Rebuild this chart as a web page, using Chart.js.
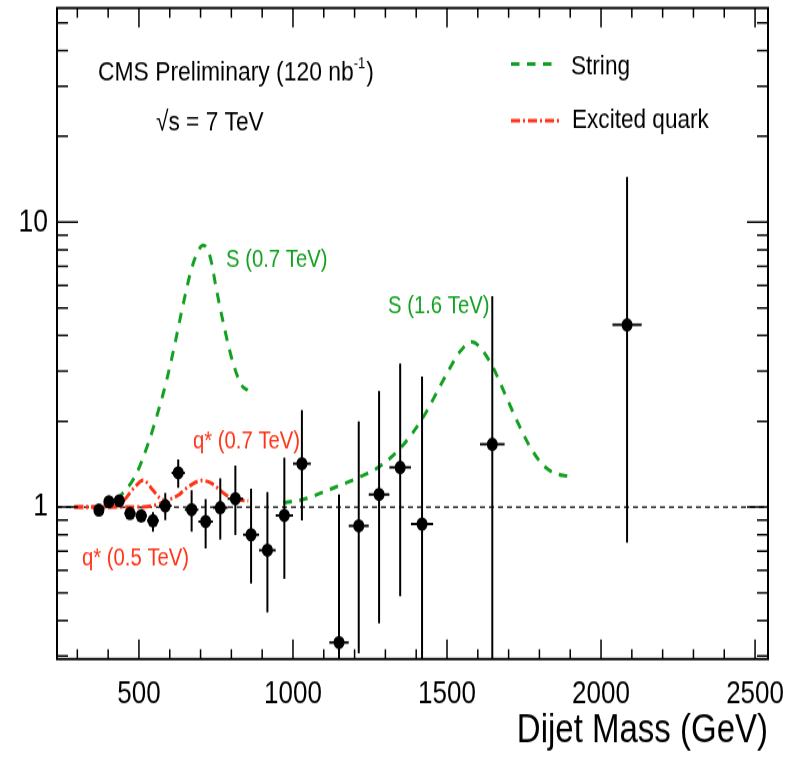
<!DOCTYPE html>
<html><head><meta charset="utf-8">
<script src="https://cdn.jsdelivr.net/npm/chart.js@4.4.1/dist/chart.umd.min.js"></script>
<style>html,body{margin:0;padding:0;background:#fff;overflow:hidden}</style>
</head><body>
<canvas id="c" width="796" height="622" style="display:block;width:796px;height:758px"></canvas>
<script>
// ---------------- data ----------------
const massCenters = [370, 402.5, 436, 471, 507.5, 545.5, 585.5, 627.5, 671, 716.5, 764, 813, 864, 917, 972, 1029, 1149.5, 1213.5, 1279.5, 1348, 1419, 1647, 2084.5];
const binLow  = [354, 386, 419, 453, 489, 526, 565, 606, 649, 693, 740, 788, 838, 890, 944, 1000, 1118, 1181, 1246, 1313, 1383, 1607, 2037];
const binHigh = [386, 419, 453, 489, 526, 565, 606, 649, 693, 740, 788, 838, 890, 944, 1000, 1058, 1181, 1246, 1313, 1383, 1455, 1687, 2132];
const ratio   = [0.976, 1.044, 1.052, 0.95, 0.932, 0.895, 1.01, 1.32, 0.98, 0.89, 0.995, 1.07, 0.80, 0.706, 0.935, 1.42, 0.335, 0.86, 1.108, 1.378, 0.872, 1.66, 4.36];
const errHigh = [1.01, 1.075, 1.085, 0.99, 0.985, 0.96, 1.12, 1.47, 1.147, 1.067, 1.26, 1.40, 1.16, 1.13, 1.49, 2.19, 1.108, 2.0, 2.56, 3.19, 2.87, 5.5, 14.4];
const errLow  = [0.945, 1.015, 1.02, 0.91, 0.885, 0.82, 0.90, 1.17, 0.82, 0.716, 0.77, 0.798, 0.54, 0.427, 0.56, 0.898, 0.1, 0.307, 0.391, 0.487, 0.1, 0.1, 0.75];

const stringMass07  = [430, 438, 487, 530, 557, 590, 617, 644, 676, 709, 731, 752, 779, 806, 833, 853];
const stringRatio07 = [1.06, 1.087, 1.28, 1.67, 2.07, 2.79, 3.75, 5.18, 7.16, 8.3, 7.55, 5.77, 4.18, 3.19, 2.68, 2.57];
const stringMass16  = [969, 1033, 1120, 1218, 1282, 1353, 1423, 1488, 1542, 1580, 1640, 1683, 1726, 1769, 1813, 1856, 1894];
const stringRatio16 = [1.035, 1.064, 1.154, 1.277, 1.39, 1.63, 2.07, 2.79, 3.51, 3.8, 3.23, 2.57, 2.02, 1.63, 1.40, 1.306, 1.285];
const qstarMass05  = [290, 400, 438, 487, 514, 541, 568, 580];
const qstarRatio05 = [1.0, 1.0, 1.022, 1.178, 1.243, 1.163, 1.075, 1.06];
const qstarMass07  = [290, 449, 503, 552, 595, 628, 660, 704, 736, 769, 801, 855];
const qstarRatio07 = [1.0, 1.0, 1.0, 1.016, 1.058, 1.102, 1.178, 1.24, 1.211, 1.132, 1.073, 1.052];

const referenceRatio = [1, 1];
const referenceMass = [234, 2542];

const xMajorTicks = [500, 1000, 1500, 2000, 2500];
const xMinorTicks = [300, 400, 600, 700, 800, 900, 1100, 1200, 1300, 1400, 1600, 1700, 1800, 1900, 2100, 2200, 2300, 2400];
const yMajorTicks = [1, 10];
const yMinorTicks = [0.3, 0.4, 0.5, 0.6, 0.7, 0.8, 0.9, 2, 3, 4, 5, 6, 7, 8, 9, 20, 30, 40, 50];

// ---------------- styling ----------------
const S = 758 / 622;           // vertical stretch of the original picture
const GREEN = '#12a020';
const RED = '#ff3317';
const FONT = '"Liberation Sans", Arial, Helvetica, sans-serif';

const pts = (xs, ys) => xs.map((x, i) => ({x, y: ys[i]}));
const vErr = [];
massCenters.forEach((m, i) => { vErr.push({x: m, y: errLow[i]}, {x: m, y: errHigh[i]}, {x: m, y: null}); });
const hErr = [];
massCenters.forEach((m, i) => { hErr.push({x: binLow[i], y: ratio[i]}, {x: binHigh[i], y: ratio[i]}, {x: binHigh[i], y: null}); });

const axisDecor = {
  id: 'axisDecor',
  afterDraw(chart) {
    const {ctx, chartArea: a, scales: {x, y}} = chart;
    ctx.save();
    ctx.strokeStyle = '#000';
    ctx.setLineDash([]);
    ctx.lineWidth = 1.5;
    ctx.beginPath();
    const xt = (list, len) => list.forEach(v => {
      const px = x.getPixelForValue(v);
      ctx.moveTo(px, a.bottom); ctx.lineTo(px, a.bottom - len);
      ctx.moveTo(px, a.top); ctx.lineTo(px, a.top + len);
    });
    const yt = (list, len) => list.forEach(v => {
      const py = y.getPixelForValue(v);
      ctx.moveTo(a.left, py); ctx.lineTo(a.left + len, py);
      ctx.moveTo(a.right, py); ctx.lineTo(a.right - len, py);
    });
    xt(xMajorTicks, 16); xt(xMinorTicks, 8);
    yt(yMajorTicks, 21); yt(yMinorTicks, 11);
    ctx.stroke();
    ctx.lineWidth = 2;
    ctx.strokeRect(a.left, a.top, a.right - a.left, a.bottom - a.top);
    ctx.restore();
  }
};

function txt(ctx, s, x, y, size, color) {
  ctx.font = size + 'px ' + FONT;
  ctx.fillStyle = color;
  ctx.textAlign = 'left';
  ctx.textBaseline = 'alphabetic';
  ctx.fillText(s, x, y);
  return ctx.measureText(s).width;
}

const annotations = {
  id: 'annotations',
  afterDraw(chart) {
    const ctx = chart.ctx;
    ctx.save();
    // header
    let w = txt(ctx, 'CMS Preliminary (120 nb', 98, 80 / S, 22.9, '#000');
    let w2 = txt(ctx, '-1', 98 + w, 68 / S, 13, '#000');
    txt(ctx, ')', 98 + w + w2 + 1, 80 / S, 22.9, '#000');
    txt(ctx, '\u221As = 7 TeV', 156, 130 / S, 22.7, '#000');
    // legend
    ctx.lineWidth = 3;
    ctx.strokeStyle = GREEN;
    ctx.setLineDash([8.5, 7.5]);
    ctx.beginPath(); ctx.moveTo(511, 64 / S); ctx.lineTo(559, 64 / S); ctx.stroke();
    ctx.strokeStyle = RED;
    ctx.setLineDash([9, 3, 2, 3]);
    ctx.beginPath(); ctx.moveTo(511, 120.7 / S); ctx.lineTo(559, 120.7 / S); ctx.stroke();
    ctx.setLineDash([]);
    txt(ctx, 'String', 571, 74 / S, 22.6, '#000');
    txt(ctx, 'Excited quark', 572, 128 / S, 22.6, '#000');
    // curve labels
    txt(ctx, 'S (0.7 TeV)', 226, 267 / S, 20.3, GREEN);
    txt(ctx, 'S (1.6 TeV)', 388, 313 / S, 20.3, GREEN);
    txt(ctx, 'q* (0.7 TeV)', 193, 449 / S, 20.3, RED);
    txt(ctx, 'q* (0.5 TeV)', 82, 566 / S, 20.3, RED);
    ctx.restore();
  }
};

const curve = (data, color, dash, order) => ({
  type: 'line', data, borderColor: color, borderWidth: 3, borderDash: dash,
  pointRadius: 0, cubicInterpolationMode: 'monotone', fill: false, order
});

new Chart(document.getElementById('c'), {
  type: 'line',
  data: {
    datasets: [
      {label: 'Data', data: pts(massCenters, ratio), showLine: false, pointRadius: 5.5,
       pointBackgroundColor: '#000', pointBorderWidth: 0, borderColor: '#000', order: 0},
      {label: 'vErr', data: vErr, borderColor: '#000', borderWidth: 2, pointRadius: 0, spanGaps: false, order: 1},
      {label: 'hErr', data: hErr, borderColor: '#000', borderWidth: 2, pointRadius: 0, spanGaps: false, order: 1},
      Object.assign(curve(pts(stringMass07, stringRatio07), GREEN, [8.5, 7.5], 3), {label: 'String'}),
      Object.assign(curve(pts(stringMass16, stringRatio16), GREEN, [8.5, 7.5], 3), {label: 'String 1.6'}),
      Object.assign(curve(pts(qstarMass05, qstarRatio05), RED, [9, 3, 2, 3], 2), {label: 'Excited quark'}),
      Object.assign(curve(pts(qstarMass07, qstarRatio07), RED, [9, 3, 2, 3], 2), {label: 'q* 0.7'}),
      {label: 'ref', data: pts(referenceMass, referenceRatio), borderColor: '#000', borderWidth: 1.2,
       borderDash: [5, 4], pointRadius: 0, order: 4}
    ]
  },
  options: {
    responsive: false,
    animation: false,
    devicePixelRatio: 1,
    events: [],
    layout: {padding: {top: 8 / S, right: 28, bottom: 2.2, left: 0}},
    scales: {
      x: {
        type: 'linear', min: 234, max: 2542,
        afterBuildTicks: s => { s.ticks = xMajorTicks.map(v => ({value: v})); },
        ticks: {font: {family: FONT, size: 26}, color: '#000', padding: 13, maxRotation: 0, autoSkip: false,
                callback: v => String(v)},
        grid: {display: false, drawTicks: false},
        border: {display: false},
        title: {display: true, text: 'Dijet Mass (GeV)', align: 'end', color: '#000',
                font: {family: FONT, size: 33}, padding: {top: 0, bottom: 0}},
        afterFit: s => { s.height = 622 - 2.2 - 659 / S; s.paddingLeft = 0; s.paddingRight = 0; }
      },
      y: {
        type: 'logarithmic', min: 0.293, max: 56.4,
        afterBuildTicks: s => { s.ticks = yMajorTicks.map(v => ({value: v})); },
        ticks: {font: {family: FONT, size: 26.5}, color: '#000', padding: 9, autoSkip: false,
                callback: v => String(v)},
        grid: {display: false, drawTicks: false},
        border: {display: false},
        afterFit: s => { s.width = 57; s.paddingTop = 0; s.paddingBottom = 0; }
      }
    },
    plugins: {legend: {display: false}, tooltip: {enabled: false}}
  },
  plugins: [axisDecor, annotations]
});
</script>
</body></html>
